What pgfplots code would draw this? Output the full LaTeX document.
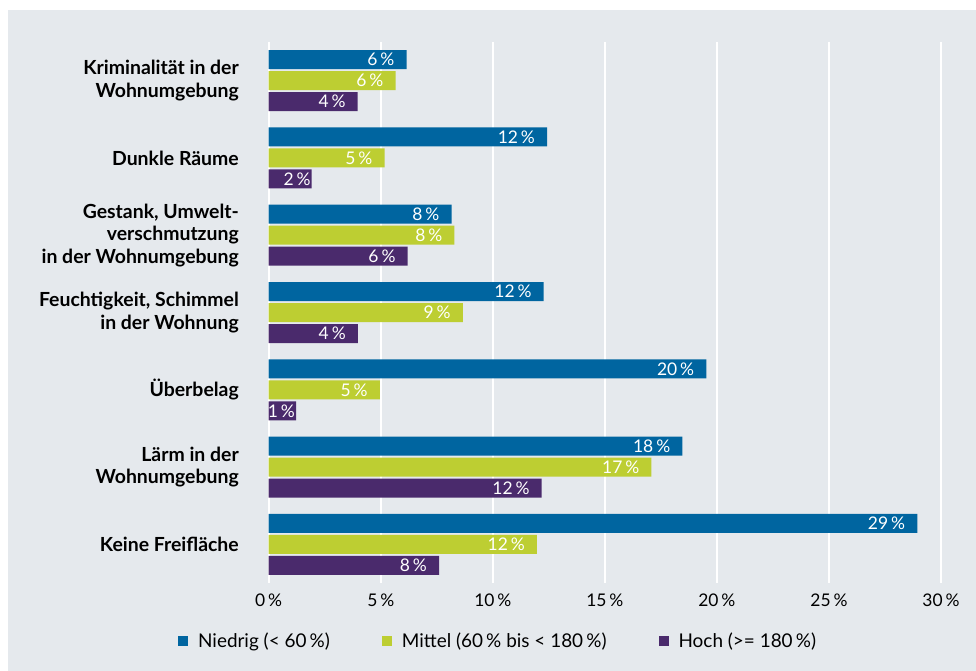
\documentclass[border=0pt]{standalone}
\usepackage{pgfplots}
\pgfplotsset{compat=1.18}
\usepackage{fontspec}
\setmainfont{Lato}
\definecolor{bg}{RGB}{229,233,237}
\definecolor{cblue}{RGB}{0,101,160}
\definecolor{cgreen}{RGB}{189,206,50}
\definecolor{cpurple}{RGB}{74,42,108}
\begin{document}
\begin{tikzpicture}
\useasboundingbox (0,0) rectangle (976bp,671bp);
\fill[white] (0,0) rectangle (976bp,671bp);
\fill[bg] (8bp,0) rectangle (976bp,661bp);
\begin{axis}[
    at={(268.7bp,87.9bp)}, anchor=south west,
    scale only axis, width=672.3bp, height=541.2bp,
    xbar, bar width=19bp, y dir=reverse,
    xmin=0, xmax=30, ymin=-0.5, ymax=6.5,
    axis line style={draw=none},
    major tick length=0pt,
    xtick={0,5,...,30},
    xticklabels={0\,\%,5\,\%,10\,\%,15\,\%,20\,\%,25\,\%,30\,\%},
    xticklabel style={font=\fontsize{17.5}{20}\selectfont, anchor=base, inner sep=0pt, yshift=-23.5bp},
    xmajorgrids, grid style={white, line width=2bp},
    ytick={0,...,6},
    yticklabels={{Kriminalität in der\\Wohnumgebung},{Dunkle Räume},{Gestank, Umwelt-\\verschmutzung\\in der Wohnumgebung},{Feuchtigkeit, Schimmel\\in der Wohnung},{Überbelag},{Lärm in der\\Wohnumgebung},{Keine Freifläche}},
    yticklabel style={align=right, font=\fontsize{19.5}{22.7}\selectfont\bfseries, inner sep=0pt, xshift=-29.7bp},
    point meta=explicit symbolic,
    visualization depends on={rawx \as \rawx},
    nodes near coords={\pgfplotspointmeta\,\%},
    every node near coord/.append style={anchor=east, text=white, inner sep=0pt,
        font=\fontsize{17.5}{20}\selectfont, xshift={((\rawx<2)*11-12)*1pt}},
    legend columns=3,
    legend style={at={(-0.135,-0.107)}, anchor=west, draw=none, fill=none, inner sep=0pt,
        font=\fontsize{19}{22}\selectfont, legend cell align=left,
        /tikz/every even column/.append style={column sep=50bp},
        /tikz/every odd column/.append style={column sep=8bp}},
]
\addplot[fill=cblue, draw=none, bar shift=21bp,
    legend image code/.code={\fill[cblue] (0bp,-5bp) rectangle (10bp,5bp);}]
    coordinates {(6.15,0)[6] (12.42,1)[12] (8.16,2)[8] (12.27,3)[12] (19.53,4)[20] (18.46,5)[18] (28.94,6)[29]};
\addplot[fill=cgreen, draw=none, bar shift=0bp,
    legend image code/.code={\fill[cgreen] (0bp,-5bp) rectangle (10bp,5bp);}]
    coordinates {(5.66,0)[6] (5.17,1)[5] (8.29,2)[8] (8.66,3)[9] (4.96,4)[5] (17.08,5)[17] (11.97,6)[12]};
\addplot[fill=cpurple, draw=none, bar shift=-21bp,
    legend image code/.code={\fill[cpurple] (0bp,-5bp) rectangle (10bp,5bp);}]
    coordinates {(3.97,0)[4] (1.92,1)[2] (6.2,2)[6] (3.98,3)[4] (1.22,4)[1] (12.18,5)[12] (7.6,6)[8]};
\legend{Niedrig (< 60\,\%), Mittel (60\,\% bis < 180\,\%), Hoch (>= 180\,\%)}
\end{axis}
\end{tikzpicture}
\end{document}
